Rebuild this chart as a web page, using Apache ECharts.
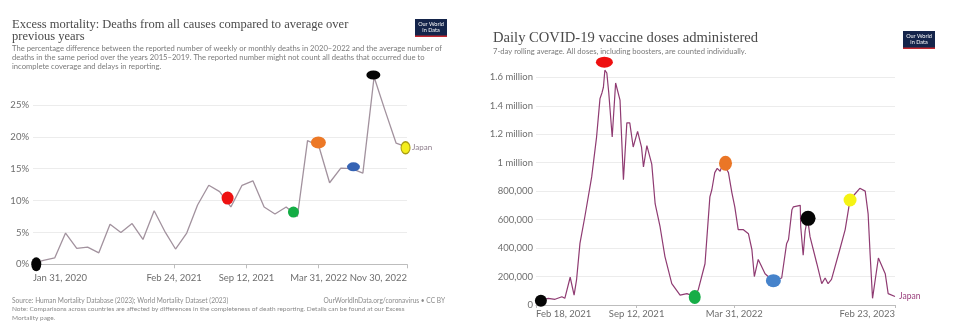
<!DOCTYPE html>
<html>
<head>
<meta charset="utf-8">
<script src="https://cdn.jsdelivr.net/npm/echarts@6/dist/echarts.min.js"></script>
<style>
  html, body { margin: 0; padding: 0; background: #fff; }
  #chart { width: 979px; height: 333px; }
</style>
</head>
<body>
<div id="chart"></div>
<script>
// ---- Excess mortality, Japan (monthly, % above 2015–2019 average) ----
const mortalityDates = [
  '2020-01-31','2020-02-29','2020-03-31','2020-04-30','2020-05-31','2020-06-30',
  '2020-07-31','2020-08-31','2020-09-30','2020-10-31','2020-11-30','2020-12-31',
  '2021-01-31','2021-02-28','2021-03-31','2021-04-30','2021-05-31','2021-06-30',
  '2021-07-31','2021-08-31','2021-09-30','2021-10-31','2021-11-30','2021-12-31',
  '2022-01-31','2022-02-28','2022-03-31','2022-04-30','2022-05-31','2022-06-30',
  '2022-07-31','2022-08-31','2022-09-30','2022-10-31','2022-11-30'
];
const mortalityValues = [
  0.2, 0.6, 1.0, 4.9, 2.5, 2.7,
  1.8, 6.3, 5.0, 6.4, 3.9, 8.4,
  5.0, 2.4, 4.9, 9.3, 12.4, 11.4,
  9.0, 12.4, 13.1, 9.0, 7.9, 9.0,
  7.5, 19.4, 18.6, 12.8, 15.1, 15.0,
  14.3, 29.4, 24.2, 19.0, 18.4
];
const mortalityTicks = ['2020-01-31', '2021-02-24', '2021-09-12', '2022-03-31', '2022-11-30'];
const mortalityPercentTicks = [0, 5, 10, 15, 20, 25];

// highlighted points on the mortality line
const mortalityMarkDates = ['2020-02-09','2021-07-22','2022-01-20','2022-03-30','2022-07-05','2022-08-29','2022-11-26'];
const mortalityMarkValues = [0, 10.4, 8.2, 19.1, 15.3, 29.7, 18.3];

// ---- Daily COVID-19 vaccine doses, Japan (7-day rolling average) ----
const doseDates = [
  '2021-02-18','2021-02-26','2021-03-15','2021-03-29','2021-04-12','2021-04-18',
  '2021-04-29','2021-05-02','2021-05-07','2021-05-12','2021-05-19','2021-05-29',
  '2021-06-12','2021-06-22','2021-06-29','2021-07-03','2021-07-06','2021-07-09',
  '2021-07-13','2021-07-17','2021-07-24','2021-07-31','2021-08-09','2021-08-16',
  '2021-08-23','2021-08-29','2021-09-05','2021-09-14','2021-09-22','2021-09-26',
  '2021-10-03','2021-10-13','2021-10-20','2021-10-30','2021-11-09','2021-11-23',
  '2021-12-10','2021-12-24','2022-01-08','2022-01-16','2022-01-30','2022-02-09',
  '2022-02-13','2022-02-19','2022-02-24','2022-03-02','2022-03-08','2022-03-19',
  '2022-03-26','2022-04-01','2022-04-08','2022-04-18','2022-04-29','2022-05-06',
  '2022-05-11','2022-05-19','2022-06-02','2022-06-18','2022-07-06','2022-07-16',
  '2022-07-20','2022-07-27','2022-07-30','2022-08-13','2022-08-14','2022-08-19',
  '2022-08-23','2022-08-28','2022-09-02','2022-09-16','2022-09-26','2022-10-03',
  '2022-10-09','2022-10-16','2022-11-02','2022-11-13','2022-11-23','2022-12-03',
  '2022-12-13','2022-12-24','2022-12-30','2023-01-03','2023-01-08','2023-01-20',
  '2023-02-03','2023-02-09','2023-02-23'
];
const doseValues = [
  10000, 30000, 47000, 40000, 58000, 47000,
  195000, 188000, 70000, 176000, 433000, 620000,
  900000, 1180000, 1450000, 1490000, 1530000, 1650000,
  1630000, 1490000, 1180000, 1560000, 1440000, 880000,
  1280000, 1280000, 1110000, 1220000, 1110000, 970000,
  1120000, 990000, 710000, 550000, 340000, 150000,
  70000, 80000, 60000, 105000, 290000, 760000,
  810000, 930000, 960000, 940000, 1000000, 930000,
  790000, 690000, 530000, 530000, 500000, 390000,
  200000, 320000, 220000, 170000, 190000, 430000,
  460000, 670000, 690000, 700000, 550000, 350000,
  520000, 610000, 480000, 290000, 150000, 190000,
  150000, 180000, 390000, 530000, 740000, 780000,
  820000, 800000, 640000, 360000, 47000, 330000,
  220000, 80000, 60000
];
const doseTicks = ['2021-02-18', '2021-09-12', '2022-03-31', '2023-02-23'];
const doseAxisTicks = [0, 200000, 400000, 600000, 800000, 1000000, 1200000, 1400000, 1600000];

// highlighted points on the doses line
const doseMarkDates = ['2021-02-28','2021-07-08','2022-01-09','2022-03-13','2022-06-19','2022-08-29','2022-11-23'];
const doseMarkValues = [30000, 1706000, 56000, 996000, 171000, 609000, 738000];

// ---- helpers ----
const MONTHS = ['Jan','Feb','Mar','Apr','May','Jun','Jul','Aug','Sep','Oct','Nov','Dec'];
function ts(s) {
  const p = s.split('-').map(Number);
  return new Date(p[0], p[1] - 1, p[2]).getTime();
}
function fmtDate(v) {
  const d = new Date(v);
  return MONTHS[d.getMonth()] + ' ' + d.getDate() + ', ' + d.getFullYear();
}
function fmtDoses(v) {
  if (v >= 1000000) return (v / 1000000) + ' million';
  return v.toLocaleString('en-US');
}
function zip(xs, ys) { return xs.map((x, i) => [ts(x), ys[i]]); }

// dot appearance, in the order of the highlighted points
const mortalityDotStyle = [
  { color: '#050505', size: [10, 14] },
  { color: '#ee1111', size: [12, 13] },
  { color: '#14ad45', size: [11, 11] },
  { color: '#ec7826', size: [15, 12] },
  { color: '#3563b4', size: [13, 9] },
  { color: '#050505', size: [14, 9] },
  { color: '#f4ee1c', size: [9, 12], border: '#a99c12' }
];
const doseDotStyle = [
  { color: '#050505', size: [12, 12] },
  { color: '#ee0f0f', size: [17, 11] },
  { color: '#16ad47', size: [12, 14] },
  { color: '#ea7626', size: [13, 15] },
  { color: '#4683cb', size: [15, 13] },
  { color: '#050505', size: [15, 15] },
  { color: '#f5f314', size: [13, 13] }
];
function dots(dates, values, styles) {
  return dates.map((d, i) => ({
    value: [ts(d), values[i]],
    symbolSize: styles[i].size,
    itemStyle: {
      color: styles[i].color,
      opacity: 1,
      borderColor: styles[i].border || styles[i].color,
      borderWidth: styles[i].border ? 1.2 : 0
    }
  }));
}

const LABEL = { color: '#6e6e6e', fontFamily: 'Lato', fontSize: 9.5 };
const GRID_LINE = { color: '#ececec', width: 1 };

function logo(x, y) {
  return {
    type: 'group', x: x, y: y,
    children: [
      { type: 'rect', shape: { x: 0, y: 0, width: 32, height: 18 }, style: { fill: '#14244a' } },
      { type: 'rect', shape: { x: 0, y: 16.5, width: 32, height: 1.5 }, style: { fill: '#c3282f' } },
      { type: 'text', x: 16, y: 5.5, style: { text: 'Our World', fill: '#fff', fontSize: 5.5, fontFamily: 'Lato', align: 'center', verticalAlign: 'middle' } },
      { type: 'text', x: 16, y: 11.5, style: { text: 'in Data', fill: '#fff', fontSize: 5.5, fontFamily: 'Lato', align: 'center', verticalAlign: 'middle' } }
    ]
  };
}
function txt(x, y, text, size, color, family, align) {
  return {
    type: 'text', x: x, y: y,
    style: { text: text, fontSize: size, fill: color, fontFamily: family || 'Lato', align: align || 'left', verticalAlign: 'middle' }
  };
}

function dateAxis(gridIndex, dates, ticks, margin, tickLen) {
  return {
    type: 'value', gridIndex: gridIndex,
    min: ts(dates[0]), max: ts(dates[dates.length - 1]),
    axisLine: { lineStyle: { color: '#bdbdbd', width: 1 } },
    axisTick: { show: true, length: tickLen, customValues: ticks.map(ts), lineStyle: { color: '#bdbdbd' } },
    axisLabel: Object.assign({}, LABEL, {
      customValues: ticks.map(ts), formatter: fmtDate, margin: margin,
      alignMinLabel: 'left', alignMaxLabel: 'right', hideOverlap: false
    }),
    splitLine: { show: false }
  };
}

const chart = echarts.init(document.getElementById('chart'), null, { renderer: 'canvas' });
chart.setOption({
  animation: false,
  backgroundColor: '#ffffff',
  grid: [
    { left: 33, top: 105, width: 374, height: 159.3 },
    { left: 536, top: 77.3, width: 359, height: 227.7 }
  ],
  xAxis: [
    dateAxis(0, mortalityDates, mortalityTicks, 9, 4),
    dateAxis(1, doseDates, doseTicks, 4, 3)
  ],
  yAxis: [
    {
      type: 'value', gridIndex: 0,
      min: mortalityPercentTicks[0], max: mortalityPercentTicks[mortalityPercentTicks.length - 1], interval: 5,
      axisLine: { show: false }, axisTick: { show: false },
      axisLabel: Object.assign({}, LABEL, { formatter: '{value}%', margin: 4 }),
      splitLine: { show: true, lineStyle: GRID_LINE }
    },
    {
      type: 'value', gridIndex: 1,
      min: doseAxisTicks[0], max: doseAxisTicks[doseAxisTicks.length - 1], interval: 200000,
      axisLine: { show: false }, axisTick: { show: false },
      axisLabel: Object.assign({}, LABEL, { formatter: fmtDoses, margin: 3 }),
      splitLine: { show: true, lineStyle: GRID_LINE }
    }
  ],
  series: [
    {
      name: 'Japan', type: 'line', xAxisIndex: 0, yAxisIndex: 0,
      data: zip(mortalityDates, mortalityValues),
      showSymbol: false, clip: false,
      lineStyle: { color: '#a2929e', width: 1.3 },
      endLabel: { show: true, formatter: 'Japan', color: '#8d7d8b', fontSize: 8, fontFamily: 'Lato', distance: 5 },
      z: 2
    },
    {
      type: 'scatter', xAxisIndex: 0, yAxisIndex: 0, clip: false,
      data: dots(mortalityMarkDates, mortalityMarkValues, mortalityDotStyle),
      z: 5
    },
    {
      name: 'Japan', type: 'line', xAxisIndex: 1, yAxisIndex: 1,
      data: zip(doseDates, doseValues),
      showSymbol: false, clip: false,
      lineStyle: { color: '#8f3b72', width: 1.2 },
      endLabel: { show: true, formatter: 'Japan', color: '#9a3f7c', fontSize: 8.5, fontFamily: 'Lato', distance: 4 },
      z: 2
    },
    {
      type: 'scatter', xAxisIndex: 1, yAxisIndex: 1, clip: false,
      data: dots(doseMarkDates, doseMarkValues, doseDotStyle),
      z: 5
    }
  ],
  graphic: [
    // left panel header
    txt(12, 25, 'Excess mortality: Deaths from all causes compared to average over', 12.5, '#4a4a4a', 'Liberation Serif'),
    txt(12, 36.5, 'previous years', 12.5, '#4a4a4a', 'Liberation Serif'),
    txt(12, 48.3, 'The percentage difference between the reported number of weekly or monthly deaths in 2020–2022 and the average number of', 7.65, '#7a7a7a'),
    txt(12, 57.3, 'deaths in the same period over the years 2015–2019. The reported number might not count all deaths that occurred due to', 7.65, '#7a7a7a'),
    txt(12, 66.5, 'incomplete coverage and delays in reporting.', 7.65, '#7a7a7a'),
    logo(415, 19),
    // left panel footer
    txt(12, 300.7, 'Source: Human Mortality Database (2023); World Mortality Dataset (2023)', 6.6, '#8a8a8a'),
    txt(445, 300.7, 'OurWorldInData.org/coronavirus • CC BY', 6.6, '#8a8a8a', 'Lato', 'right'),
    txt(12, 309.3, 'Note: Comparisons across countries are affected by differences in the completeness of death reporting. Details can be found at our Excess', 6.5, '#8a8a8a'),
    txt(12, 317.7, 'Mortality page.', 6.5, '#8a8a8a'),
    // right panel header
    txt(493, 38, 'Daily COVID-19 vaccine doses administered', 14.6, '#4a4a4a', 'Liberation Serif'),
    txt(493, 51.7, '7-day rolling average. All doses, including boosters, are counted individually.', 7.65, '#7a7a7a'),
    logo(903, 31)
  ]
});
</script>
</body>
</html>
